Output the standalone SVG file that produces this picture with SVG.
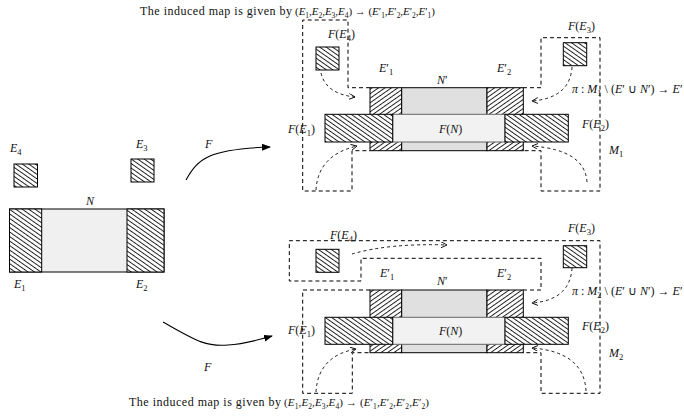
<svg xmlns="http://www.w3.org/2000/svg" width="684" height="418" viewBox="0 0 684 418">
  <style>
    .t{font-family:"Liberation Serif","Times New Roman",serif;font-size:12px;fill:#111}
    .m{font-size:11px}
    .i{font-style:italic}
    .s{font-size:8.5px}
    .ms{font-size:7.5px}
    .edge{stroke:#000;stroke-width:1}
    .soft{stroke:#666;stroke-width:1}
    .region{fill:none;stroke:#000;stroke-width:1;stroke-dasharray:4 3}
    .flow{fill:none;stroke:#000;stroke-width:0.9;stroke-dasharray:3 3;marker-end:url(#openHead)}
    .map{fill:none;stroke:#000;stroke-width:1.1;marker-end:url(#solidHead)}
  </style>
  <defs>
    <!-- "\" hatching -->
    <pattern id="hatchBack" width="3.7" height="3.7" patternUnits="userSpaceOnUse" patternTransform="rotate(-55)">
      <rect width="3.7" height="3.7" fill="#fff"/>
      <line x1="0.5" y1="0" x2="0.5" y2="3.7" stroke="#000" stroke-width="0.85"/>
    </pattern>
    <!-- "/" hatching -->
    <pattern id="hatchFwd" width="3.7" height="3.7" patternUnits="userSpaceOnUse" patternTransform="rotate(55)">
      <rect width="3.7" height="3.7" fill="#fff"/>
      <line x1="0.5" y1="0" x2="0.5" y2="3.7" stroke="#000" stroke-width="0.85"/>
    </pattern>
    <marker id="openHead" markerWidth="8" markerHeight="8" refX="6" refY="3" orient="auto" markerUnits="userSpaceOnUse">
      <path d="M0,0 L6,3 L0,6" fill="none" stroke="#000" stroke-width="0.9"/>
    </marker>
    <marker id="solidHead" markerWidth="10" markerHeight="8" refX="8" refY="3.5" orient="auto" markerUnits="userSpaceOnUse">
      <path d="M0,0 L9,3.5 L0,7 Z" fill="#000"/>
    </marker>
  </defs>

  <!-- captions -->
  <g id="caption-top">
    <text class="t" x="140" y="15" textLength="152" lengthAdjust="spacing">The induced map is given by</text>
    <text class="t m" x="295" y="15" textLength="140" lengthAdjust="spacing">(<tspan class="i">E</tspan><tspan class="ms" dy="2.5">1</tspan><tspan dy="-2.5">,</tspan><tspan class="i">E</tspan><tspan class="ms" dy="2.5">2</tspan><tspan dy="-2.5">,</tspan><tspan class="i">E</tspan><tspan class="ms" dy="2.5">3</tspan><tspan dy="-2.5">,</tspan><tspan class="i">E</tspan><tspan class="ms" dy="2.5">4</tspan><tspan dy="-2.5">) → (</tspan><tspan class="i">E</tspan>′<tspan class="ms" dy="2.5">1</tspan><tspan dy="-2.5">,</tspan><tspan class="i">E</tspan>′<tspan class="ms" dy="2.5">2</tspan><tspan dy="-2.5">,</tspan><tspan class="i">E</tspan>′<tspan class="ms" dy="2.5">2</tspan><tspan dy="-2.5">,</tspan><tspan class="i">E</tspan>′<tspan class="ms" dy="2.5">1</tspan><tspan dy="-2.5">)</tspan></text>
  </g>
  <g id="caption-bottom">
    <text class="t" x="129" y="406" textLength="152" lengthAdjust="spacing">The induced map is given by</text>
    <text class="t m" x="284" y="406" textLength="145" lengthAdjust="spacing">(<tspan class="i">E</tspan><tspan class="ms" dy="2.5">1</tspan><tspan dy="-2.5">,</tspan><tspan class="i">E</tspan><tspan class="ms" dy="2.5">2</tspan><tspan dy="-2.5">,</tspan><tspan class="i">E</tspan><tspan class="ms" dy="2.5">3</tspan><tspan dy="-2.5">,</tspan><tspan class="i">E</tspan><tspan class="ms" dy="2.5">4</tspan><tspan dy="-2.5">) → (</tspan><tspan class="i">E</tspan>′<tspan class="ms" dy="2.5">1</tspan><tspan dy="-2.5">,</tspan><tspan class="i">E</tspan>′<tspan class="ms" dy="2.5">2</tspan><tspan dy="-2.5">,</tspan><tspan class="i">E</tspan>′<tspan class="ms" dy="2.5">2</tspan><tspan dy="-2.5">,</tspan><tspan class="i">E</tspan>′<tspan class="ms" dy="2.5">2</tspan><tspan dy="-2.5">)</tspan></text>
  </g>

  <!-- source manifold -->
  <g id="src-E4">
    <rect x="14" y="164" width="23.5" height="23" fill="url(#hatchBack)" class="edge"/>
    <text class="t i" x="10" y="152">E<tspan class="s" dy="2.5" font-style="normal">4</tspan></text>
  </g>
  <g id="src-E3">
    <rect x="131" y="159" width="23" height="23" fill="url(#hatchBack)" class="edge"/>
    <text class="t i" x="136" y="148">E<tspan class="s" dy="2.5" font-style="normal">3</tspan></text>
  </g>
  <g id="src-N">
    <rect x="9.5" y="209" width="154.5" height="63" fill="#f0f0f0" class="edge"/>
    <text class="t i" x="86" y="205">N</text>
  </g>
  <g id="src-E1">
    <rect x="9.5" y="209" width="32.2" height="63" fill="url(#hatchBack)" class="edge"/>
    <text class="t i" x="14" y="288">E<tspan class="s" dy="2.5" font-style="normal">1</tspan></text>
  </g>
  <g id="src-E2">
    <rect x="127" y="209" width="37" height="63" fill="url(#hatchBack)" class="edge"/>
    <text class="t i" x="136" y="288">E<tspan class="s" dy="2.5" font-style="normal">2</tspan></text>
  </g>

  <!-- dashed regions of M1 and M2 -->
  <g id="regions">
    <path class="region" d="M370,87.7 H348 V20 H302.7 V191 H352 V150.7 H370"/>
    <path class="region" d="M523,87.7 H541 V37.7 H600 V191 H541 V150.7 H523"/>
    <path class="region" d="M523,290 H541 V258.3 H361 V281 H289.3 V240.7 H600 V393.3 H541 V352.7 H523"/>
    <path class="region" d="M370,290 H302.7 V393.3 H352.3 V352.7 H370"/>
  </g>

  <!-- image M1 -->
  <g id="m1-E1p">
    <rect x="370" y="87.7" width="31.7" height="63" fill="url(#hatchFwd)" class="edge"/>
    <text class="t i" x="379" y="72">E<tspan font-style="normal">′</tspan><tspan class="s" dy="2.5" font-style="normal">1</tspan></text>
  </g>
  <g id="m1-Np">
    <rect x="401.7" y="87.7" width="85.3" height="63" fill="#e0e0e0" class="edge"/>
    <text class="t i" x="437" y="84">N<tspan font-style="normal">′</tspan></text>
  </g>
  <g id="m1-E2p">
    <rect x="487" y="87.7" width="36.3" height="63" fill="url(#hatchFwd)" class="edge"/>
    <text class="t i" x="497" y="72">E<tspan font-style="normal">′</tspan><tspan class="s" dy="2.5" font-style="normal">2</tspan></text>
  </g>
  <g id="m1-FN">
    <rect x="392.7" y="114.3" width="112.3" height="27.7" fill="#f2f2f2" class="soft"/>
    <text class="t" x="439" y="133"><tspan class="i">F</tspan>(<tspan class="i">N</tspan>)</text>
  </g>
  <g id="m1-FE1">
    <rect x="325" y="114.3" width="67.7" height="27.7" fill="url(#hatchBack)" class="edge"/>
    <text class="t" x="288" y="133"><tspan class="i">F</tspan>(<tspan class="i">E</tspan><tspan class="s" dy="2.5">1</tspan><tspan dy="-2.5">)</tspan></text>
  </g>
  <g id="m1-FE2">
    <rect x="505" y="114.3" width="63.3" height="27.7" fill="url(#hatchBack)" class="edge"/>
    <text class="t" x="582" y="128"><tspan class="i">F</tspan>(<tspan class="i">E</tspan><tspan class="s" dy="2.5">2</tspan><tspan dy="-2.5">)</tspan></text>
  </g>
  <g id="m1-FE4">
    <rect x="316" y="47" width="23" height="23" fill="url(#hatchBack)" class="edge"/>
    <text class="t" x="328" y="38"><tspan class="i">F</tspan>(<tspan class="i">E</tspan><tspan class="s" dy="2.5">4</tspan><tspan dy="-2.5">)</tspan></text>
  </g>
  <g id="m1-FE3">
    <rect x="563.3" y="42.7" width="23.4" height="23" fill="url(#hatchBack)" class="edge"/>
    <text class="t" x="568" y="30"><tspan class="i">F</tspan>(<tspan class="i">E</tspan><tspan class="s" dy="2.5">3</tspan><tspan dy="-2.5">)</tspan></text>
  </g>
  <g id="m1-labels">
    <text class="t" x="572" y="93"><tspan class="i">π</tspan> : <tspan class="i">M</tspan><tspan class="s" dy="2.5">1</tspan><tspan dy="-2.5"> \ (</tspan><tspan class="i">E</tspan>′ ∪ <tspan class="i">N</tspan>′) → <tspan class="i">E</tspan>′</text>
    <text class="t i" x="609" y="154">M<tspan class="s" dy="2.5" font-style="normal">1</tspan></text>
  </g>

  <!-- image M2 -->
  <g id="m2-E1p">
    <rect x="370" y="290" width="31.7" height="62.7" fill="url(#hatchFwd)" class="edge"/>
    <text class="t i" x="380" y="277">E<tspan font-style="normal">′</tspan><tspan class="s" dy="2.5" font-style="normal">1</tspan></text>
  </g>
  <g id="m2-Np">
    <rect x="401.7" y="290" width="85.3" height="62.7" fill="#e0e0e0" class="edge"/>
    <text class="t i" x="437" y="285">N<tspan font-style="normal">′</tspan></text>
  </g>
  <g id="m2-E2p">
    <rect x="487" y="290" width="36.3" height="62.7" fill="url(#hatchFwd)" class="edge"/>
    <text class="t i" x="497" y="277">E<tspan font-style="normal">′</tspan><tspan class="s" dy="2.5" font-style="normal">2</tspan></text>
  </g>
  <g id="m2-FN">
    <rect x="392.7" y="317.3" width="112.3" height="27" fill="#f2f2f2" class="soft"/>
    <text class="t" x="439" y="335"><tspan class="i">F</tspan>(<tspan class="i">N</tspan>)</text>
  </g>
  <g id="m2-FE1">
    <rect x="325" y="317.3" width="67.7" height="27" fill="url(#hatchBack)" class="edge"/>
    <text class="t" x="288" y="334"><tspan class="i">F</tspan>(<tspan class="i">E</tspan><tspan class="s" dy="2.5">1</tspan><tspan dy="-2.5">)</tspan></text>
  </g>
  <g id="m2-FE2">
    <rect x="505" y="317.3" width="63.3" height="27" fill="url(#hatchBack)" class="edge"/>
    <text class="t" x="582" y="330"><tspan class="i">F</tspan>(<tspan class="i">E</tspan><tspan class="s" dy="2.5">2</tspan><tspan dy="-2.5">)</tspan></text>
  </g>
  <g id="m2-FE4">
    <rect x="316" y="249.3" width="23" height="23" fill="url(#hatchBack)" class="edge"/>
    <text class="t" x="330" y="239"><tspan class="i">F</tspan>(<tspan class="i">E</tspan><tspan class="s" dy="2.5">4</tspan><tspan dy="-2.5">)</tspan></text>
  </g>
  <g id="m2-FE3">
    <rect x="563.3" y="245.7" width="23.4" height="22" fill="url(#hatchBack)" class="edge"/>
    <text class="t" x="568" y="232"><tspan class="i">F</tspan>(<tspan class="i">E</tspan><tspan class="s" dy="2.5">3</tspan><tspan dy="-2.5">)</tspan></text>
  </g>
  <g id="m2-labels">
    <text class="t" x="572" y="295"><tspan class="i">π</tspan> : <tspan class="i">M</tspan><tspan class="s" dy="2.5">2</tspan><tspan dy="-2.5"> \ (</tspan><tspan class="i">E</tspan>′ ∪ <tspan class="i">N</tspan>′) → <tspan class="i">E</tspan>′</text>
    <text class="t i" x="609" y="357">M<tspan class="s" dy="2.5" font-style="normal">2</tspan></text>
  </g>

  <!-- connectors -->
  <g id="connectors">
    <path class="map" d="M186,180 C198,158 210,149 270,147"/>
    <text class="t i" x="205" y="148">F</text>
    <path class="map" d="M163,322 C195,340 205,347 228,345 C245,344 258,340 272,336"/>
    <text class="t i" x="204" y="371">F</text>

    <path class="flow" d="M321,73 Q326,94 355,97"/>
    <path class="flow" d="M316,190 Q318,155 357,146"/>
    <path class="flow" d="M572,67 Q570,98 532,101"/>
    <path class="flow" d="M587,182 Q585,150 532,146"/>

    <path class="flow" d="M352,254 Q390,243 447,245"/>
    <path class="flow" d="M316,392 Q318,356 356,349"/>
    <path class="flow" d="M572,268 Q570,300 532,303"/>
    <path class="flow" d="M586,391 Q584,352 532,348"/>
  </g>
</svg>
